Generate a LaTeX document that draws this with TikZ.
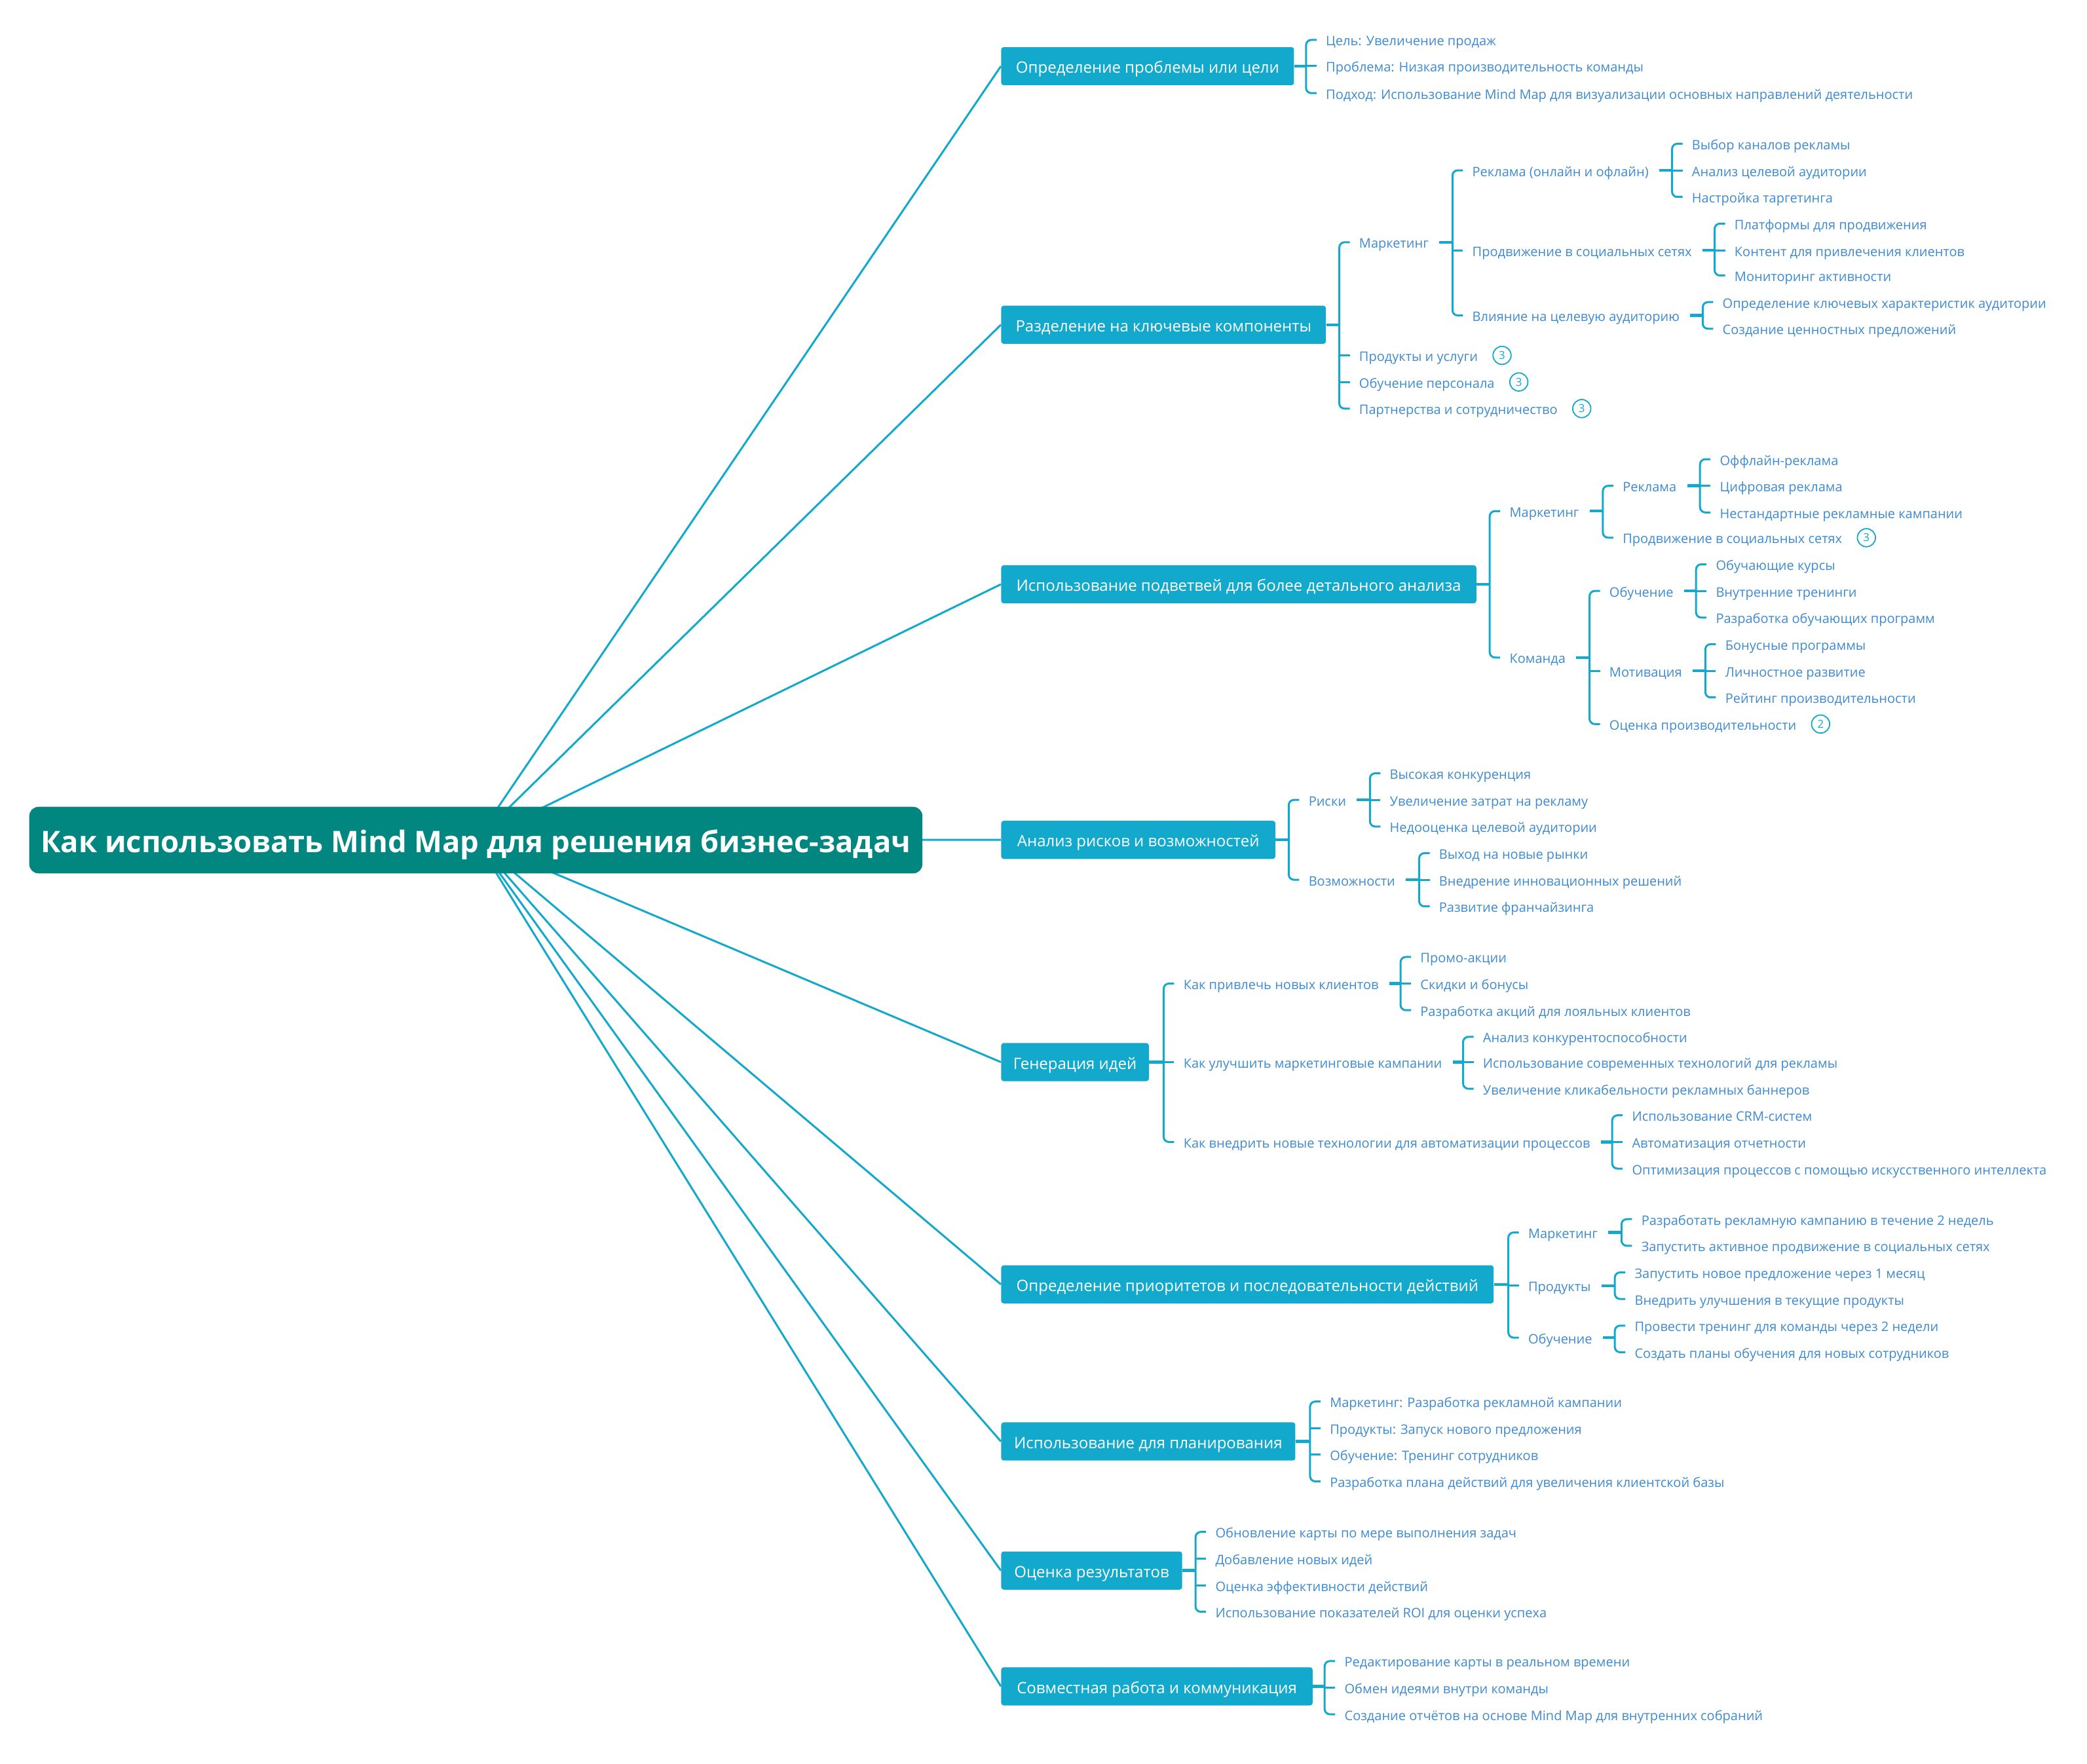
\documentclass[tikz,border=0pt]{standalone}
\usepackage{fontspec}
\setmainfont{Open Sans}
\usetikzlibrary{backgrounds,positioning}
\definecolor{rootc}{RGB}{1,135,128}
\definecolor{boxc}{RGB}{19,169,204}
\definecolor{leafc}{RGB}{62,138,206}
\newdimen\pxu \pxu=1.01594pt
\tikzset{
 rootbox/.style={fill=rootc, text=white, rounded corners=7pt, inner sep=0, minimum height=50\pxu, font=\fontsize{22.7}{26}\selectfont\bfseries, text height=18.6pt, text depth=0pt},
 mainbox/.style={fill=boxc, text=white, rounded corners=2pt, inner sep=0, minimum height=28.7\pxu, anchor=west, font=\fontsize{12}{14}\selectfont, text height=10.6pt, text depth=0pt},
 leaf/.style={anchor=west, inner sep=0, text=leafc, font=\fontsize{10}{12}\selectfont, text height=9pt, text depth=0pt},
 conn/.style={draw=boxc, line width=1.5pt},
 br/.style={draw=boxc, line width=1.5pt},
 stub/.style={draw=boxc, line width=2.2pt},
 cnt/.style={circle, draw=boxc, line width=0.9pt, inner sep=0, minimum size=13.8pt, text=boxc, font=\fontsize{8.4}{9}\selectfont},
}
% #1 parent, #2 first child, #3 last child, #4 stub start shift
\newcommand\brk[4]{%
 \draw[stub] ([xshift=#4]#1.east) -- ([xshift=-15pt]#2.west |- #1.east);
 \draw[br,rounded corners=4pt] ([xshift=-7pt]#2.west) -- ([xshift=-15pt]#2.west) -- ([xshift=-15pt]#3.west) -- ([xshift=-7pt]#3.west);}
\newcommand\mtick[1]{\draw[br] ([xshift=-15pt]#1.west) -- ([xshift=-7pt]#1.west);}
\begin{document}
\begin{tikzpicture}[x=1.01594pt,y=-1.01594pt]
\useasboundingbox (0,0) rectangle (1568,1325);
% root
\node[rootbox, minimum width=671\pxu] (root) at (357.5,631.2) {Как использовать Mind Map для решения бизнес-задач};
% main branches
\node[mainbox, minimum width=220\pxu] (b1) at (752,49.7) {Определение проблемы или цели};
\node[mainbox, minimum width=244\pxu] (b2) at (752,244) {Разделение на ключевые компоненты};
\node[mainbox, minimum width=357\pxu] (b3) at (752,439) {Использование подветвей для более детального анализа};
\node[mainbox, minimum width=206\pxu] (b4) at (752,631) {Анализ рисков и возможностей};
\node[mainbox, minimum width=111\pxu] (b5) at (752,798) {Генерация идей};
\node[mainbox, minimum width=370\pxu] (b6) at (752,965) {Определение приоритетов и последовательности действий};
\node[mainbox, minimum width=221\pxu] (b7) at (752,1083) {Использование для планирования};
\node[mainbox, minimum width=136\pxu] (b8) at (752,1180) {Оценка результатов};
\node[mainbox, minimum width=234\pxu] (b9) at (752,1267) {Совместная работа и коммуникация};
\begin{scope}[on background layer]
\foreach \i in {1,...,9} \draw[conn] (root.center) -- (b\i.west);
\end{scope}
% branch 1
\node[leaf] (c11) at (996,30) {Цель: Увеличение продаж};
\node[leaf] (c12) at (996,49.7) {Проблема: Низкая производительность команды};
\node[leaf] (c13) at (996,70) {Подход: Использование Mind Map для визуализации основных направлений деятельности};
\brk{b1}{c11}{c13}{0pt}\mtick{c12}
% branch 2
\node[leaf] (m2) at (1021,182) {Маркетинг};
\node[leaf] (p2) at (1021,267) {Продукты и услуги};
\node[leaf] (o2) at (1021,287) {Обучение персонала};
\node[leaf] (pa2) at (1021,307) {Партнерства и сотрудничество};
\node[cnt, right=11pt of p2] (p2c) {3};
\node[cnt, right=11pt of o2] (o2c) {3};
\node[cnt, right=11pt of pa2] (pa2c) {3};
\brk{b2}{m2}{pa2}{0pt}\mtick{p2}\mtick{o2}
\node[leaf] (r2) at (1106,128) {Реклама (онлайн и офлайн)};
\node[leaf] (s2) at (1106,188) {Продвижение в социальных сетях};
\node[leaf] (v2) at (1106,237) {Влияние на целевую аудиторию};
\brk{m2}{r2}{v2}{8pt}\mtick{s2}
\node[leaf] (r21) at (1271,108) {Выбор каналов рекламы};
\node[leaf] (r22) at (1271,128) {Анализ целевой аудитории};
\node[leaf] (r23) at (1271,148) {Настройка таргетинга};
\brk{r2}{r21}{r23}{8pt}\mtick{r22}
\node[leaf] (s21) at (1303,168) {Платформы для продвижения};
\node[leaf] (s22) at (1303,188) {Контент для привлечения клиентов};
\node[leaf] (s23) at (1303,207) {Мониторинг активности};
\brk{s2}{s21}{s23}{8pt}\mtick{s22}
\node[leaf] (v21) at (1294,227) {Определение ключевых характеристик аудитории};
\node[leaf] (v22) at (1294,247) {Создание ценностных предложений};
\brk{v2}{v21}{v22}{8pt}
% branch 3
\node[leaf] (m3) at (1134,384) {Маркетинг};
\node[leaf] (k3) at (1134,494) {Команда};
\brk{b3}{m3}{k3}{0pt}
\node[leaf] (r3) at (1219,365) {Реклама};
\node[leaf] (s3) at (1219,404) {Продвижение в социальных сетях};
\node[cnt, right=11pt of s3] (s3c) {3};
\brk{m3}{r3}{s3}{8pt}
\node[leaf] (r31) at (1292,345) {Оффлайн-реклама};
\node[leaf] (r32) at (1292,365) {Цифровая реклама};
\node[leaf] (r33) at (1292,385) {Нестандартные рекламные кампании};
\brk{r3}{r31}{r33}{8pt}\mtick{r32}
\node[leaf] (o3) at (1209,444) {Обучение};
\node[leaf] (mo3) at (1209,504) {Мотивация};
\node[leaf] (oc3) at (1209,544) {Оценка производительности};
\node[cnt, right=11pt of oc3] (oc3c) {2};
\brk{k3}{o3}{oc3}{8pt}\mtick{mo3}
\node[leaf] (o31) at (1289,424) {Обучающие курсы};
\node[leaf] (o32) at (1289,444) {Внутренние тренинги};
\node[leaf] (o33) at (1289,464) {Разработка обучающих программ};
\brk{o3}{o31}{o33}{8pt}\mtick{o32}
\node[leaf] (mo31) at (1296,484) {Бонусные программы};
\node[leaf] (mo32) at (1296,504) {Личностное развитие};
\node[leaf] (mo33) at (1296,524) {Рейтинг производительности};
\brk{mo3}{mo31}{mo33}{8pt}\mtick{mo32}
% branch 4
\node[leaf] (ri4) at (983,601) {Риски};
\node[leaf] (vo4) at (983,661) {Возможности};
\brk{b4}{ri4}{vo4}{0pt}
\node[leaf] (ri41) at (1044,581) {Высокая конкуренция};
\node[leaf] (ri42) at (1044,601) {Увеличение затрат на рекламу};
\node[leaf] (ri43) at (1044,621) {Недооценка целевой аудитории};
\brk{ri4}{ri41}{ri43}{8pt}\mtick{ri42}
\node[leaf] (vo41) at (1081,641) {Выход на новые рынки};
\node[leaf] (vo42) at (1081,661) {Внедрение инновационных решений};
\node[leaf] (vo43) at (1081,681) {Развитие франчайзинга};
\brk{vo4}{vo41}{vo43}{8pt}\mtick{vo42}
% branch 5
\node[leaf] (q1) at (889,739) {Как привлечь новых клиентов};
\node[leaf] (q2) at (889,798) {Как улучшить маркетинговые кампании};
\node[leaf] (q3) at (889,858) {Как внедрить новые технологии для автоматизации процессов};
\brk{b5}{q1}{q3}{0pt}\mtick{q2}
\node[leaf] (q11) at (1067,719) {Промо-акции};
\node[leaf] (q12) at (1067,739) {Скидки и бонусы};
\node[leaf] (q13) at (1067,759) {Разработка акций для лояльных клиентов};
\brk{q1}{q11}{q13}{8pt}\mtick{q12}
\node[leaf] (q21) at (1114,779) {Анализ конкурентоспособности};
\node[leaf] (q22) at (1114,798) {Использование современных технологий для рекламы};
\node[leaf] (q23) at (1114,818) {Увеличение кликабельности рекламных баннеров};
\brk{q2}{q21}{q23}{8pt}\mtick{q22}
\node[leaf] (q31) at (1226,838) {Использование CRM-систем};
\node[leaf] (q32) at (1226,858) {Автоматизация отчетности};
\node[leaf] (q33) at (1226,878) {Оптимизация процессов с помощью искусственного интеллекта};
\brk{q3}{q31}{q33}{8pt}\mtick{q32}
% branch 6
\node[leaf] (m6) at (1148,926) {Маркетинг};
\node[leaf] (p6) at (1148,966) {Продукты};
\node[leaf] (o6) at (1148,1005) {Обучение};
\brk{b6}{m6}{o6}{0pt}\mtick{p6}
\node[leaf] (m61) at (1233,916) {Разработать рекламную кампанию в течение 2 недель};
\node[leaf] (m62) at (1233,936) {Запустить активное продвижение в социальных сетях};
\brk{m6}{m61}{m62}{8pt}
\node[leaf] (p61) at (1228,956) {Запустить новое предложение через 1 месяц};
\node[leaf] (p62) at (1228,976) {Внедрить улучшения в текущие продукты};
\brk{p6}{p61}{p62}{8pt}
\node[leaf] (o61) at (1228,996) {Провести тренинг для команды через 2 недели};
\node[leaf] (o62) at (1228,1016) {Создать планы обучения для новых сотрудников};
\brk{o6}{o61}{o62}{8pt}
% branch 7
\node[leaf] (c71) at (999,1053) {Маркетинг: Разработка рекламной кампании};
\node[leaf] (c72) at (999,1073) {Продукты: Запуск нового предложения};
\node[leaf] (c73) at (999,1093) {Обучение: Тренинг сотрудников};
\node[leaf] (c74) at (999,1113) {Разработка плана действий для увеличения клиентской базы};
\brk{b7}{c71}{c74}{0pt}\mtick{c72}\mtick{c73}
% branch 8
\node[leaf] (c81) at (913,1151) {Обновление карты по мере выполнения задач};
\node[leaf] (c82) at (913,1171) {Добавление новых идей};
\node[leaf] (c83) at (913,1191) {Оценка эффективности действий};
\node[leaf] (c84) at (913,1211) {Использование показателей ROI для оценки успеха};
\brk{b8}{c81}{c84}{0pt}\mtick{c82}\mtick{c83}
% branch 9
\node[leaf] (c91) at (1010,1248) {Редактирование карты в реальном времени};
\node[leaf] (c92) at (1010,1268) {Обмен идеями внутри команды};
\node[leaf] (c93) at (1010,1288) {Создание отчётов на основе Mind Map для внутренних собраний};
\brk{b9}{c91}{c93}{0pt}\mtick{c92}
\end{tikzpicture}
\end{document}
